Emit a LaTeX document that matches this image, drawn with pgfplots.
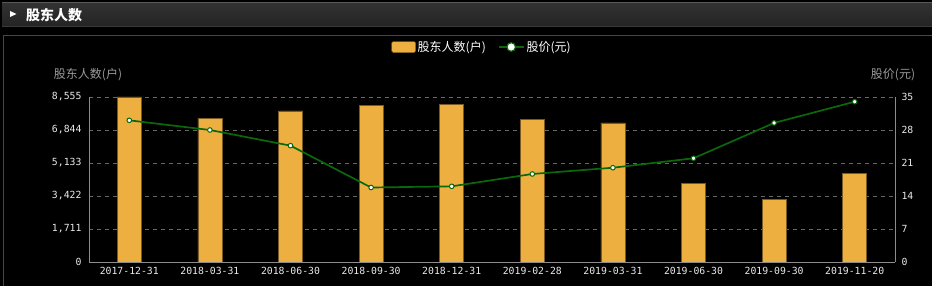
\documentclass[border=0pt]{standalone}
\usepackage{pgfplots}
\pgfplotsset{compat=1.18}
\usepackage{fontspec}
\setmainfont{Noto Sans CJK SC}
\setmonofont{DejaVu Sans Mono}
\definecolor{barc}{HTML}{EDB040}
\definecolor{bard}{HTML}{7A5A22}
\definecolor{linec}{HTML}{0A680A}
\definecolor{gridc}{HTML}{686868}
\definecolor{axc}{HTML}{8C8C8C}
\definecolor{tickc}{HTML}{EAEAEA}
\definecolor{titc}{HTML}{9A9A9A}
\definecolor{tbtop}{HTML}{323232}
\definecolor{tbbot}{HTML}{242424}
\definecolor{tbline}{HTML}{585858}
\definecolor{frame}{HTML}{474747}
\begin{document}
\begin{tikzpicture}[x=1pt,y=1pt]
\useasboundingbox (0,0) rectangle (932,286);
\fill[black] (0,0) rectangle (932,286);
% title bar
\shade[top color=tbtop, bottom color=tbbot] (2,260) rectangle (932,283);
\draw[tbline, line width=1pt] (2,283)--(932,283);
\draw[frame!80!black, line width=0.8pt] (2,260)--(932,260);
\fill[white] (10,275)--(16.5,272)--(10,269)--cycle;
\node[anchor=west, text=white, font=\bfseries\fontsize{14}{14}\selectfont, inner sep=0pt] at (26,271) {股东人数};
% frame
\draw[frame, line width=1pt] (3,0)--(3,250)--(932,250);
% axis titles
\node[text=titc, font=\fontsize{12}{12}\selectfont] at (88,211) {股东人数(户)};
\node[text=titc, font=\fontsize{12}{12}\selectfont] at (893,211) {股价(元)};

\begin{axis}[
  at={(89pt,24pt)}, anchor=south west, scale only axis,
  width=806pt, height=165pt,
  xmin=-0.5, xmax=9.5, ymin=0, ymax=8555,
  axis y line*=left, axis x line*=bottom,
  axis line style={draw=axc, line width=0.8pt},
  major tick length=0pt,
  xtick={0,...,9},
  xticklabels={2017-12-31,2018-03-31,2018-06-30,2018-09-30,2018-12-31,2019-02-28,2019-03-31,2019-06-30,2019-09-30,2019-11-20},
  ytick={0,1711,3422,5133,6844,8555},
  yticklabels={0,{1,711},{3,422},{5,133},{6,844},{8,555}},
  ymajorgrids, grid style={gridc, dash pattern=on 4pt off 4pt, line width=0.7pt},
  ticklabel style={font=\ttfamily\fontsize{9.8}{10}\selectfont, text=tickc},
  xticklabel style={yshift=-2pt},
  yticklabel style={xshift=-4pt},
  /pgf/number format/assume math mode=true,
]
\addplot[ybar, bar width=24pt, fill=barc, draw=bard, line width=0.8pt] coordinates {
  (0,8555) (1,7451) (2,7829) (3,8124) (4,8150) (5,7414) (6,7207) (7,4080) (8,3266) (9,4580)
};
\end{axis}

\begin{axis}[
  at={(89pt,24pt)}, anchor=south west, scale only axis,
  width=806pt, height=165pt,
  xmin=-0.5, xmax=9.5, ymin=0, ymax=35,
  axis y line*=right, axis x line=none,
  axis line style={draw=axc, line width=0.8pt},
  major tick length=0pt,
  ytick={0,7,14,21,28,35},
  yticklabels={0,7,14,21,28,35},
  ticklabel style={font=\ttfamily\fontsize{9.8}{10}\selectfont, text=tickc},
  yticklabel style={xshift=3pt},
  /pgf/number format/assume math mode=true,
  legend style={at={(0.4876,1.303)}, anchor=center, draw=none, fill=none, text=white,
    font=\fontsize{12}{12}\selectfont, legend columns=2,
    /tikz/every even column/.append style={column sep=10pt}},
]
\addlegendimage{legend image code/.code={\draw[fill=barc,draw=bard,rounded corners=1.5pt] (0pt,-5.5pt) rectangle (24pt,5.5pt);}}
\addlegendentry{股东人数(户)}
\addplot[linec, line width=1.7pt, mark=*, mark size=2.3pt,
  mark options={fill=white, draw=linec, line width=1pt},
  legend image code/.code={\draw[linec, line width=1.7pt] (0pt,0pt)--(25pt,0pt); \draw[linec, fill=white, line width=1.2pt] (12.5pt,0pt) circle (4.3pt);}]
  coordinates {
  (0,30.05) (1,28.0) (2,24.68) (3,15.8) (4,16.05) (5,18.67) (6,20.0) (7,22.0) (8,29.5) (9,34.0)
};
\addlegendentry{股价(元)}
\end{axis}
\end{tikzpicture}
\end{document}
